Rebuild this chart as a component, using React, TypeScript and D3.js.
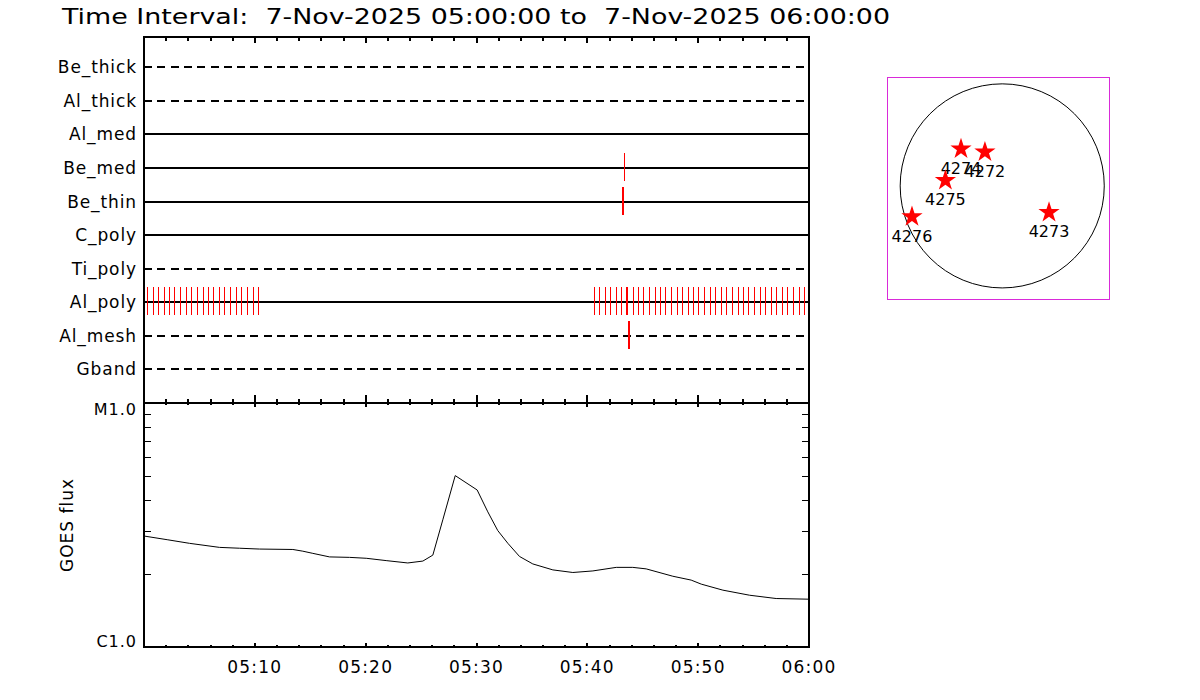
import React from 'react';
import * as d3 from 'd3';

// ---------- data ----------
const titleText = 'Time Interval:  7-Nov-2025 05:00:00 to  7-Nov-2025 06:00:00';
const channels = ['Be_thick', 'Al_thick', 'Al_med', 'Be_med', 'Be_thin', 'C_poly', 'Ti_poly', 'Al_poly', 'Al_mesh', 'Gband'];
const channelDashed = [true, true, false, false, false, false, true, false, true, true];

// minutes after 05:00 of each exposure mark
const alPolyTimes = [
  0.25, 0.77, 1.28, 1.76, 2.27, 2.75, 3.27, 3.77, 4.26, 4.76, 5.28, 5.76, 6.27, 6.79, 7.26, 7.78, 8.28, 8.77, 9.28, 9.79, 10.27,
  40.58, 41.07, 41.58, 42.07, 42.57, 43.06, 43.49, 43.58, 44.08, 44.56, 45.04, 45.55, 46.09, 46.58, 47.05, 47.57, 48.05,
  48.56, 49.07, 49.55, 50.03, 50.55, 51.05, 51.54, 52.04, 52.53, 53.04, 53.55, 54.03, 54.54, 55.02, 55.54, 56.01, 56.53,
  57.04, 57.52, 58.04, 58.54, 59.06, 59.53,
];
const beMedTimes = [43.29];
const beThinTimes = [43.1, 43.19];
const alMeshTimes = [43.67, 43.76];

// GOES flux, in units of 1e-6 W/m^2 (C1.0 = 1)
const goesMinutes = [0, 2.15, 4.11, 6.81, 8.62, 10.42, 13.43, 14.33, 15.23, 16.74, 18.54, 20.05, 21.85, 23.8, 25.16, 26.06,
  26.96, 28.08, 30.06, 31.02, 31.92, 32.83, 33.88, 35.08, 36.89, 38.69, 40.5, 42.61, 44.1, 45.31, 47.71, 49.37, 50.28,
  52.23, 54.64, 57.04, 60];
const goesFlux = [2.85, 2.75, 2.66, 2.56, 2.54, 2.52, 2.51, 2.47, 2.42, 2.34, 2.33, 2.31, 2.26, 2.21, 2.25, 2.38,
  3.32, 5.04, 4.4, 3.58, 3.0, 2.66, 2.35, 2.19, 2.07, 2.02, 2.05, 2.12, 2.12, 2.09, 1.95, 1.88, 1.81,
  1.71, 1.63, 1.58, 1.57];

const xTickMinutes = [10, 20, 30, 40, 50, 60];
const xTickLabels = ['05:10', '05:20', '05:30', '05:40', '05:50', '06:00'];
const yTickValues = [1, 10];
const yTickLabels = ['C1.0', 'M1.0'];
const yAxisTitle = 'GOES flux';

// active regions, heliocentric arcsec
const arNumbers = ['4274', '4272', '4275', '4276', '4273'];
const arX = [-391, -164, -539, -856, 444];
const arY = [350, 321, 52, -292, -252];
const solarRadius = 968;

// ---------- layout ----------
const W = 1200, H = 700;
const X0 = 144, X1 = 809;
const TOP = 37, MID = 403, BOT = 647;
const FONT = '"DejaVu Sans", "Liberation Sans", sans-serif';

export default function App() {
  const x = d3.scaleLinear().domain([0, 60]).range([X0, X1]);
  const yRow = d3.scaleLinear().domain([0, 10.9]).range([MID, TOP]);
  const yG = d3.scaleLog().domain([1, 10]).range([BOT, MID]);

  const rowY = (i: number) => Math.round(yRow(channels.length - i));

  const markSets: { ch: string; times: number[] }[] = [
    { ch: 'Al_poly', times: alPolyTimes },
    { ch: 'Be_med', times: beMedTimes },
    { ch: 'Be_thin', times: beThinTimes },
    { ch: 'Al_mesh', times: alMeshTimes },
  ];

  const line = d3.line<number>()
    .x((_, i) => x(goesMinutes[i]))
    .y((d) => yG(d));

  const minorMinutes = d3.range(0, 61, 2);
  const isMajor = (m: number) => m % 10 === 0;

  const yMinor = yG.ticks().filter((v) => v > 1 && v < 10);

  // inset
  const bx0 = 887, bx1 = 1109, by0 = 77, by1 = 299;
  const ix = d3.scaleLinear().domain([-1093, 1013]).range([bx0, bx1]);
  const iy = d3.scaleLinear().domain([1033, -1073]).range([by0, by1]);
  const star = d3.symbol().type(d3.symbolStar).size(140)();

  const textStyle: React.CSSProperties = { fontFamily: FONT, fontWeight: 400, fill: '#000', whiteSpace: 'pre' };

  return (
    <svg width={W} height={H} style={{ position: 'absolute', left: 0, top: 0, background: '#fff' }}>
      <rect x={0} y={0} width={W} height={H} fill="#fff" />
      {/* title */}
      <text x={62} y={24} fontSize={21} textLength={828} lengthAdjust="spacingAndGlyphs" style={textStyle}
        xmlSpace="preserve">
        {titleText}
      </text>

      <g shapeRendering="crispEdges">
        {/* channel lines */}
        {channels.map((c, i) => (
          <line key={c} x1={X0} x2={X1} y1={rowY(i)} y2={rowY(i)} stroke="#000" strokeWidth={2}
            strokeDasharray={channelDashed[i] ? '8,5.3' : undefined} />
        ))}
        {/* red exposure marks */}
        {markSets.map((s) => {
          const yy = rowY(channels.indexOf(s.ch));
          return s.times.map((t, j) => (
            <line key={s.ch + j} x1={Math.round(x(t)) + 0.5} x2={Math.round(x(t)) + 0.5} y1={yy - 15} y2={yy + 13}
              stroke="#ff0000" strokeWidth={1} />
          ));
        })}

        {/* frames */}
        <line x1={X0 - 1} x2={X1 + 1} y1={TOP} y2={TOP} stroke="#000" strokeWidth={2} />
        <line x1={X0} x2={X0} y1={TOP} y2={BOT} stroke="#000" strokeWidth={2} />
        <line x1={X1} x2={X1} y1={TOP} y2={BOT} stroke="#000" strokeWidth={2} />
        <line x1={X0 - 1} x2={X1 + 1} y1={MID} y2={MID} stroke="#000" strokeWidth={2} />
        <line x1={X0 - 1} x2={X1 + 1} y1={BOT} y2={BOT} stroke="#000" strokeWidth={2} />

        {/* time ticks */}
        {minorMinutes.map((m) => {
          const xx = Math.round(x(m));
          const maj = isMajor(m);
          return (
            <g key={'t' + m}>
              <line x1={xx} x2={xx} y1={TOP} y2={TOP + (maj ? 6 : 4)} stroke="#000" strokeWidth={2} />
              <line x1={xx} x2={xx} y1={MID - (maj ? 8 : 4)} y2={MID + (maj ? 4 : 2)} stroke="#000" strokeWidth={2} />
              <line x1={xx} x2={xx} y1={BOT - (maj ? 4 : 2)} y2={BOT} stroke="#000" strokeWidth={2} />
            </g>
          );
        })}

        {/* GOES minor y ticks */}
        {yMinor.map((v) => {
          const yy = Math.round(yG(v));
          return (
            <g key={'y' + v}>
              <line x1={X0} x2={X0 + 7} y1={yy} y2={yy} stroke="#000" strokeWidth={1} />
              <line x1={X1 - 7} x2={X1} y1={yy} y2={yy} stroke="#000" strokeWidth={1} />
            </g>
          );
        })}
      </g>

      {/* GOES curve */}
      <path d={line(goesFlux) || ''} fill="none" stroke="#000" strokeWidth={1} />

      {/* channel labels */}
      {channels.map((c, i) => (
        <text key={'l' + c} x={137} y={rowY(i) + 6} fontSize={17} textAnchor="end" letterSpacing={0.9} style={textStyle}>
          {c}
        </text>
      ))}

      {/* y tick labels */}
      {yTickValues.map((v, i) => (
        <text key={'yl' + v} x={137} y={v === 10 ? yG(v) + 12 : yG(v)} fontSize={16} textAnchor="end"
          letterSpacing={1} style={textStyle}>
          {yTickLabels[i]}
        </text>
      ))}

      {/* x tick labels */}
      {xTickMinutes.map((m, i) => (
        <text key={'xl' + m} x={x(m)} y={673} fontSize={17} textAnchor="middle" letterSpacing={1.2} style={textStyle}>
          {xTickLabels[i]}
        </text>
      ))}

      <text transform={`translate(73,525) rotate(-90)`} fontSize={17} textAnchor="middle" letterSpacing={1}
        style={textStyle}>
        {yAxisTitle}
      </text>

      {/* inset */}
      <rect x={bx0 + 0.5} y={by0 + 0.5} width={bx1 - bx0} height={by1 - by0} fill="none" stroke="#d92ad9" strokeWidth={1} />
      <circle cx={ix(0)} cy={iy(0)} r={ix(solarRadius) - ix(0)} fill="none" stroke="#000" strokeWidth={1} />
      {arNumbers.map((n, i) => (
        <g key={'ar' + n}>
          <path d={star || ''} transform={`translate(${ix(arX[i])},${iy(arY[i])})`} fill="#ff0000" />
          <text x={ix(arX[i])} y={iy(arY[i]) + 25} fontSize={16} textAnchor="middle" style={textStyle}>
            {n}
          </text>
        </g>
      ))}
    </svg>
  );
}
